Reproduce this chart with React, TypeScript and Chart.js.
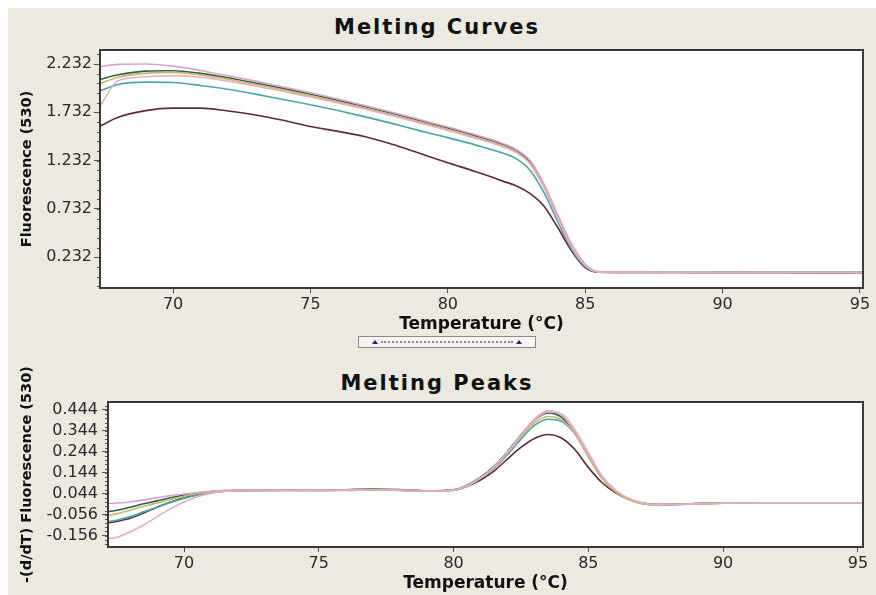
import React, { useEffect, useRef } from "react";
import { Chart, registerables } from "chart.js";

Chart.register(...registerables);

// ---------- Melting curves (top panel) ----------
const curveTemps = [67.35, 68, 69, 70, 71, 72, 73, 74, 75, 76, 77, 78, 79, 80, 81, 82, 82.5, 83, 83.5, 84, 84.5, 85, 85.5, 86, 87, 88, 89, 90, 91, 92, 93, 94, 95.1];
const curvePink = [2.205, 2.228, 2.232, 2.21, 2.165, 2.11, 2.055, 1.995, 1.935, 1.87, 1.8, 1.73, 1.655, 1.58, 1.5, 1.41, 1.345, 1.23, 0.99, 0.67, 0.37, 0.16, 0.082, 0.079, 0.078, 0.077, 0.077, 0.076, 0.076, 0.075, 0.075, 0.075, 0.074];
const curveGreen = [2.075, 2.12, 2.158, 2.162, 2.135, 2.09, 2.035, 1.98, 1.92, 1.855, 1.79, 1.72, 1.645, 1.57, 1.49, 1.4, 1.335, 1.215, 0.975, 0.655, 0.36, 0.155, 0.08, 0.078, 0.077, 0.077, 0.076, 0.076, 0.075, 0.075, 0.075, 0.074, 0.074];
const curveOlive = [2.03, 2.095, 2.135, 2.145, 2.12, 2.075, 2.02, 1.965, 1.905, 1.84, 1.775, 1.705, 1.63, 1.555, 1.475, 1.385, 1.32, 1.2, 0.96, 0.64, 0.345, 0.15, 0.079, 0.077, 0.077, 0.076, 0.076, 0.075, 0.075, 0.075, 0.074, 0.074, 0.074];
const curveTeal = [1.955, 2.02, 2.045, 2.04, 2.01, 1.97, 1.92, 1.865, 1.81, 1.75, 1.685, 1.615, 1.54, 1.47, 1.395, 1.31, 1.25, 1.13, 0.9, 0.6, 0.32, 0.135, 0.077, 0.076, 0.076, 0.075, 0.075, 0.075, 0.074, 0.074, 0.074, 0.073, 0.073];
const curveRose = [1.8, 2.06, 2.1, 2.11, 2.095, 2.055, 2.005, 1.95, 1.89, 1.83, 1.765, 1.695, 1.62, 1.545, 1.465, 1.375, 1.315, 1.195, 0.955, 0.635, 0.34, 0.148, 0.079, 0.077, 0.077, 0.076, 0.076, 0.075, 0.075, 0.075, 0.074, 0.074, 0.074];
const curveMaroon = [1.59, 1.68, 1.75, 1.775, 1.775, 1.745, 1.705, 1.65, 1.585, 1.535, 1.48, 1.4, 1.305, 1.21, 1.12, 1.02, 0.97, 0.89, 0.76, 0.54, 0.3, 0.125, 0.077, 0.076, 0.075, 0.075, 0.075, 0.074, 0.074, 0.074, 0.073, 0.073, 0.073];

// ---------- Melting peaks (bottom panel) ----------
const peakTemps = [67.18, 67.5, 68, 68.5, 69, 69.5, 70, 70.5, 71, 71.5, 72, 73, 74, 75, 76, 77, 78, 79, 80, 80.5, 81, 81.5, 82, 82.5, 83, 83.5, 84, 84.5, 85, 85.5, 86, 86.5, 87, 87.5, 88, 89, 90, 91, 92, 93, 94, 95.19];
const peakPink = [-0.002, 0.0, 0.005, 0.015, 0.025, 0.035, 0.043, 0.05, 0.056, 0.059, 0.06, 0.061, 0.061, 0.06, 0.061, 0.063, 0.062, 0.058, 0.062, 0.082, 0.12, 0.17, 0.24, 0.32, 0.4, 0.44, 0.42, 0.34, 0.23, 0.125, 0.06, 0.022, 0.0, -0.008, -0.008, -0.004, -0.001, 0.0, 0.001, 0.001, 0.001, 0.001];
const peakGreen = [-0.042, -0.035, -0.02, -0.004, 0.01, 0.025, 0.038, 0.048, 0.055, 0.059, 0.061, 0.062, 0.062, 0.061, 0.063, 0.067, 0.064, 0.058, 0.063, 0.085, 0.123, 0.175, 0.245, 0.325, 0.395, 0.43, 0.41, 0.335, 0.225, 0.12, 0.055, 0.018, -0.002, -0.009, -0.008, -0.004, -0.001, 0.0, 0.0, 0.0, 0.0, 0.0];
const peakOlive = [-0.06, -0.052, -0.035, -0.016, 0.0, 0.017, 0.032, 0.045, 0.053, 0.058, 0.06, 0.061, 0.06, 0.06, 0.062, 0.064, 0.062, 0.057, 0.062, 0.083, 0.12, 0.17, 0.238, 0.315, 0.382, 0.413, 0.398, 0.33, 0.22, 0.118, 0.054, 0.017, -0.003, -0.009, -0.007, -0.003, 0.0, 0.0, 0.0, 0.0, 0.0, 0.0];
const peakTeal = [-0.09, -0.082, -0.065, -0.042, -0.02, 0.003, 0.022, 0.038, 0.05, 0.056, 0.059, 0.06, 0.06, 0.06, 0.06, 0.062, 0.06, 0.056, 0.06, 0.08, 0.117, 0.165, 0.23, 0.305, 0.37, 0.4, 0.39, 0.33, 0.225, 0.12, 0.056, 0.018, -0.002, -0.008, -0.007, -0.003, 0.0, 0.0, 0.0, 0.0, 0.0, 0.0];
const peakRose = [-0.17, -0.165, -0.138, -0.105, -0.065, -0.027, 0.005, 0.03, 0.046, 0.055, 0.059, 0.06, 0.06, 0.06, 0.061, 0.063, 0.061, 0.057, 0.061, 0.082, 0.12, 0.172, 0.242, 0.322, 0.395, 0.435, 0.425, 0.35, 0.24, 0.13, 0.062, 0.022, 0.0, -0.008, -0.008, -0.004, -0.001, 0.0, 0.0, 0.0, 0.0, 0.0];
const peakMaroon = [-0.095, -0.088, -0.073, -0.048, -0.02, 0.005, 0.025, 0.04, 0.05, 0.056, 0.059, 0.06, 0.061, 0.062, 0.063, 0.064, 0.062, 0.058, 0.062, 0.08, 0.11, 0.152, 0.21, 0.265, 0.308, 0.327, 0.31, 0.255, 0.17, 0.098, 0.05, 0.018, 0.0, -0.007, -0.007, -0.003, 0.0, 0.0, 0.0, 0.0, 0.0, 0.0];

// ---------- Axes ----------
const xTickValues = [70, 75, 80, 85, 90, 95];
const curveYTicks = [0.232, 0.732, 1.232, 1.732, 2.232];
const peakYTicks = [-0.156, -0.056, 0.044, 0.144, 0.244, 0.344, 0.444];

const seriesNames = ["Sample 1", "Sample 2", "Sample 3", "Sample 4", "Sample 5", "Sample 6"];
const seriesColors = ["#e3b0ba", "#dca2cf", "#c4b66a", "#4aa6a6", "#2f5c48", "#5e2a35"];

const FONT = "'DejaVu Sans', 'Liberation Sans', sans-serif";

const framePlugin = {
  id: "frame",
  beforeDraw(chart: any) {
    const { ctx, chartArea: a } = chart;
    ctx.save();
    ctx.fillStyle = "#ffffff";
    ctx.fillRect(a.left, a.top, a.right - a.left, a.bottom - a.top);
    ctx.restore();
  },
  afterDraw(chart: any, _args: any, opts: any) {
    const { ctx, chartArea: a } = chart;
    const ys = chart.scales.y;
    ctx.save();
    ctx.strokeStyle = "#555";
    ctx.lineWidth = 1;
    const step = opts && opts.minorStep;
    if (step && ys.ticks.length) {
      const base = ys.ticks[0].value;
      for (let k = -60; k <= 60; k++) {
        const v = base + k * step;
        if (v < ys.min || v > ys.max) continue;
        const p = Math.round(ys.getPixelForValue(v)) + 0.5;
        ctx.beginPath();
        ctx.moveTo(a.left - 3, p);
        ctx.lineTo(a.left, p);
        ctx.stroke();
      }
    }
    ctx.lineWidth = 2;
    ctx.strokeStyle = "#3a3a3a";
    ctx.strokeRect(a.left, a.top, a.right - a.left, a.bottom - a.top);
    ctx.restore();
  },
};

function makeDatasets(temps: number[], series: number[][]) {
  return series.map((vals, i) => ({
    label: seriesNames[i],
    data: temps.map((t, j) => ({ x: t, y: vals[j] })),
    borderColor: seriesColors[i],
    borderWidth: 1.6,
    pointRadius: 0,
    fill: false,
    cubicInterpolationMode: "monotone" as const,
  }));
}

function makeOptions(p: {
  xMin: number; xMax: number; yMin: number; yMax: number; yTicks: number[];
  yTitle: string; yWidth: number; xHeight: number; padTop: number; minorStep: number;
  yLabelPad: number; xTitlePadBottom: number;
}) {
  return {
    animation: false as const,
    responsive: true,
    maintainAspectRatio: false,
    layout: { padding: { top: p.padTop, right: 13, left: 0, bottom: 0 } },
    plugins: {
      legend: { display: false },
      title: { display: false },
      tooltip: { enabled: false },
      frame: { minorStep: p.minorStep },
    },
    scales: {
      x: {
        type: "linear" as const,
        min: p.xMin,
        max: p.xMax,
        afterBuildTicks: (s: any) => { s.ticks = xTickValues.map((v) => ({ value: v })); },
        afterFit: (s: any) => { s.height = p.xHeight; },
        grid: { drawOnChartArea: false, drawTicks: true, tickLength: 5, tickColor: "#555", color: "#555" },
        border: { display: false },
        ticks: { font: { family: FONT, size: 16 }, color: "#2a2a2a", padding: 2, maxRotation: 0, autoSkip: false },
        title: {
          display: true,
          text: "Temperature (°C)",
          font: { family: FONT, size: 17, weight: "bold" as const },
          color: "#111",
          padding: { top: 0, bottom: p.xTitlePadBottom },
        },
      },
      y: {
        type: "linear" as const,
        min: p.yMin,
        max: p.yMax,
        afterBuildTicks: (s: any) => { s.ticks = p.yTicks.map((v) => ({ value: v })); },
        afterFit: (s: any) => { s.width = p.yWidth; },
        grid: { drawOnChartArea: false, drawTicks: true, tickLength: 6, tickColor: "#555", color: "#555" },
        border: { display: false },
        ticks: {
          font: { family: FONT, size: 16 },
          color: "#2a2a2a",
          padding: p.yLabelPad,
          autoSkip: false,
          callback: (v: any) => Number(v).toFixed(3),
        },
        title: {
          display: true,
          text: p.yTitle,
          font: { family: FONT, size: 14.5, weight: "bold" as const },
          color: "#111",
          padding: { top: 11, bottom: 0 },
        },
      },
    },
  };
}

export default function App() {
  const topRef = useRef<HTMLCanvasElement | null>(null);
  const botRef = useRef<HTMLCanvasElement | null>(null);

  useEffect(() => {
    const c1 = new Chart(topRef.current as HTMLCanvasElement, {
      type: "line",
      data: {
        datasets: makeDatasets(curveTemps, [curveRose, curvePink, curveOlive, curveTeal, curveGreen, curveMaroon]),
      },
      options: makeOptions({
        xMin: 67.34, xMax: 95.11, yMin: -0.086, yMax: 2.377, yTicks: curveYTicks,
        yTitle: "Fluorescence (530)", yWidth: 92, xHeight: 50, padTop: 42, minorStep: 0.1,
        yLabelPad: 2, xTitlePadBottom: 3,
      }) as any,
      plugins: [framePlugin],
    });
    const c2 = new Chart(botRef.current as HTMLCanvasElement, {
      type: "line",
      data: {
        datasets: makeDatasets(peakTemps, [peakRose, peakPink, peakOlive, peakTeal, peakGreen, peakMaroon]),
      },
      options: makeOptions({
        xMin: 67.18, xMax: 95.19, yMin: -0.21, yMax: 0.482, yTicks: peakYTicks,
        yTitle: "-(d/dT) Fluorescence (530)", yWidth: 100, xHeight: 48, padTop: 52, minorStep: 0.02,
        yLabelPad: 4, xTitlePadBottom: 1,
      }) as any,
      plugins: [framePlugin],
    });
    return () => {
      c1.destroy();
      c2.destroy();
    };
  }, []);

  const titleStyle: React.CSSProperties = {
    position: "absolute",
    left: 0,
    width: 858,
    textAlign: "center",
    fontFamily: FONT,
    fontWeight: "bold",
    fontSize: 21,
    letterSpacing: 2,
    lineHeight: "24px",
    color: "#111",
  };

  const tri = (left: number): React.CSSProperties => ({
    position: "absolute",
    left,
    top: 3,
    width: 0,
    height: 0,
    borderLeft: "3px solid transparent",
    borderRight: "3px solid transparent",
    borderBottom: "4px solid #1c2a5a",
  });

  return (
    <div style={{ position: "fixed", left: 8, top: 8, width: 868, height: 587, background: "#ECE9E1", overflow: "hidden" }}>
      <div style={{ ...titleStyle, top: 7 }}>Melting Curves</div>
      <div style={{ position: "absolute", left: 0, top: 0, width: 868, height: 330 }}>
        <canvas ref={topRef} />
      </div>
      <div style={{ position: "absolute", left: 350, top: 328, width: 176, height: 10, border: "1px solid #8a8a8a", background: "#f6f4f0" }}>
        <div style={{ position: "absolute", left: 22, right: 22, top: 4, borderTop: "2px dotted #7f8ea6" }} />
        <div style={tri(13)} />
        <div style={tri(157)} />
      </div>
      <div style={{ ...titleStyle, top: 363 }}>Melting Peaks</div>
      <div style={{ position: "absolute", left: 0, top: 342, width: 868, height: 245 }}>
        <canvas ref={botRef} />
      </div>
    </div>
  );
}
